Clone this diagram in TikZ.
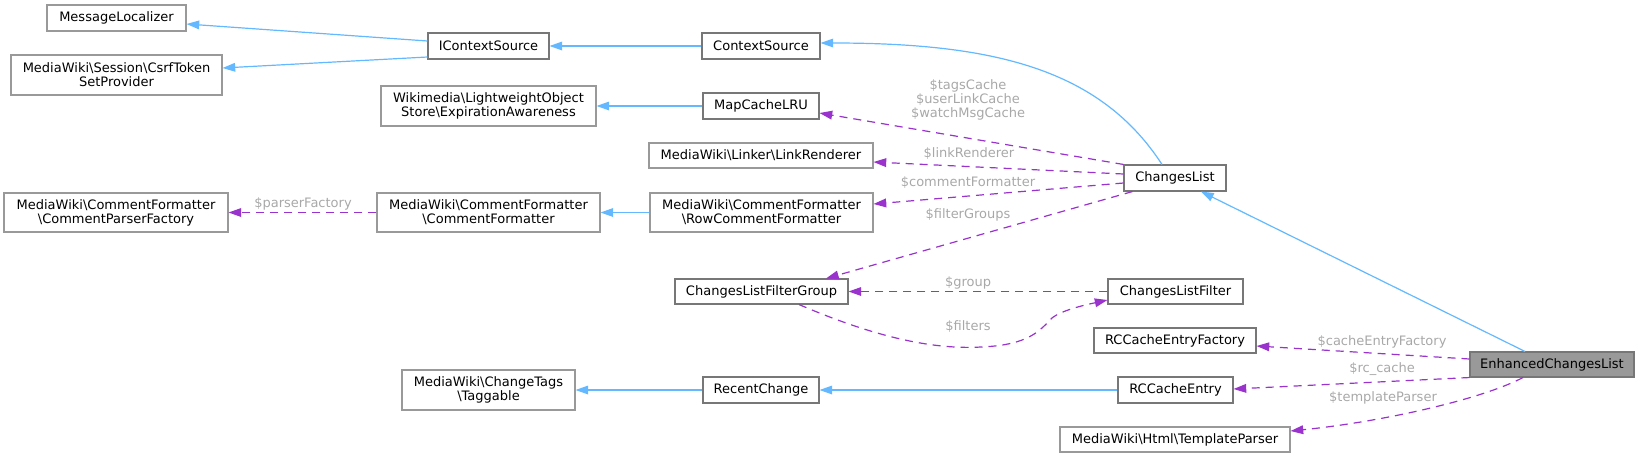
\documentclass[tikz,border=0pt]{standalone}
\usepackage{fontspec}
\setmainfont{DejaVu Sans}
\usetikzlibrary{arrows.meta,calc}
\definecolor{inhblue}{HTML}{63B8FF}
\definecolor{usepurple}{HTML}{9A32CD}
\definecolor{lblgray}{HTML}{A8A8A8}
\definecolor{dkborder}{HTML}{777777}
\definecolor{ltborder}{HTML}{999999}
\definecolor{curfill}{HTML}{999999}
\newcommand{\BSL}{\textbackslash{}}
\begin{document}
\begin{tikzpicture}[x=0.75pt,y=-0.75pt,
  font=\fontsize{9.75pt}{10.5pt}\selectfont,
  cls/.style={draw=ltborder, fill=white, line width=0.8pt, inner sep=0pt, align=center, text=black},
  dk/.style={cls, draw=dkborder},
  cur/.style={cls, draw=dkborder, fill=curfill},
  sz/.style 2 args={minimum width=#1*0.75pt, minimum height=#2*0.75pt},
  inh/.style={draw=inhblue, line width=0.9pt, -{Triangle[length=9.5pt,width=6.5pt]}},
  use/.style={draw=usepurple, line width=0.9pt, dash pattern=on 6pt off 4.5pt, -{Triangle[length=9.5pt,width=6.5pt]}},
  lbl/.style={text=lblgray, align=center, inner sep=0pt}]
\useasboundingbox (0,0) rectangle (1640,457);

% column 0
\node[cls, sz={139}{26}] (ml) at (116.5,18) {MessageLocalizer};
\node[cls, sz={211}{40}] (csrf) at (116.5,75) {MediaWiki\BSL Session\BSL CsrfToken\\SetProvider};
\node[cls, sz={224}{39}] (cpf) at (116,212.5) {MediaWiki\BSL CommentFormatter\\\BSL CommentParserFactory};
% column 1
\node[dk, sz={121}{26}] (ictx) at (488.5,46) {IContextSource};
\node[cls, sz={215}{40}] (wm) at (488.5,106) {Wikimedia\BSL LightweightObject\\Store\BSL ExpirationAwareness};
\node[cls, sz={223}{39}] (cf) at (488.5,212.5) {MediaWiki\BSL CommentFormatter\\\BSL CommentFormatter};
\node[cls, sz={173}{40}] (tag) at (488.5,390) {MediaWiki\BSL ChangeTags\\\BSL Taggable};
% column 2
\node[dk, sz={118}{26}] (ctx) at (761,46) {ContextSource};
\node[dk, sz={116}{26}] (mc) at (761,106) {MapCacheLRU};
\node[cls, sz={224}{25}] (lr) at (761,155.5) {MediaWiki\BSL Linker\BSL LinkRenderer};
\node[cls, sz={223}{39}] (rcf) at (761.5,212.5) {MediaWiki\BSL CommentFormatter\\\BSL RowCommentFormatter};
\node[dk, sz={173}{25}] (clfg) at (761.5,291.5) {ChangesListFilterGroup};
\node[dk, sz={116}{26}] (rc) at (761,390) {RecentChange};
% column 3
\node[dk, sz={102}{26}] (cl) at (1175,178) {ChangesList};
\node[dk, sz={135}{25}] (clf) at (1175.5,291.5) {ChangesListFilter};
\node[dk, sz={162}{25}] (rcef) at (1175,340.5) {RCCacheEntryFactory};
\node[dk, sz={115}{26}] (rce) at (1175.5,390) {RCCacheEntry};
\node[cls, sz={230}{25}] (tp) at (1175,439.5) {MediaWiki\BSL Html\BSL TemplateParser};
% column 4
\node[cur, sz={164}{25}] (ecl) at (1552,364.5) {EnhancedChangesList};

% inheritance edges
\draw[inh] ($(ictx.west)+(0,-5)$) -- ($(ml.east)+(0,6)$);
\draw[inh] ($(ictx.west)+(0,11)$) -- ($(csrf.east)+(0,-7)$);
\draw[inh] (ctx.west) -- (ictx.east);
\draw[inh] (mc.west) -- (wm.east);
\draw[inh] (rcf.west) -- (cf.east);
\draw[inh] ($(cl.north)+(-13,0)$) .. controls (1100,69) and (994,43) .. ($(ctx.east)+(0,-3)$);
\draw[inh] ($(ecl.north)+(-27,0)$) -- ($(cl.south)+(26,0)$);
\draw[inh] (rce.west) -- (rc.east);
\draw[inh] (rc.west) -- (tag.east);

% usage edges
\draw[use] (cf.west) -- (cpf.east);
\node[lbl] (lparser) at (303,204) {\$parserFactory};

\draw[use] (cl.north west) -- ($(mc.east)+(0,7)$);
\node[lbl] (lcache) at (968,100) {\$tagsCache\\\$userLinkCache\\\$watchMsgCache};
\draw[use] ($(cl.west)+(0,-4)$) -- ($(lr.east)+(0,6.5)$);
\node[lbl] (llink) at (969,154) {\$linkRenderer};
\draw[use] ($(cl.west)+(0,5)$) -- ($(rcf.east)+(0,-8.5)$);
\node[lbl] (lcf) at (968,183) {\$commentFormatter};
\draw[use] ($(cl.south west)+(9,0)$) -- ($(clfg.north)+(64.5,0)$);
\node[lbl] (lfg) at (968,215) {\$filterGroups};

\draw[use] (clf.west) -- (clfg.east);
\node[lbl] (lgroup) at (968,283) {\$group};
\draw[use] ($(clfg.south)+(37.5,0)$) .. controls (870,335) and (930,350) .. (981,347)
   .. controls (1030,345) and (1040,330) .. (1052,318)
   .. controls (1062,310) and (1085,305) .. ($(clf.west)+(0,8.5)$);
\node[lbl] (lfilters) at (968,327) {\$filters};

\draw[use] ($(ecl.west)+(0,-5.5)$) -- ($(rcef.east)+(0,5.5)$);
\node[lbl] (lcef) at (1382,342) {\$cacheEntryFactory};
\draw[use] (ecl.south west) -- ($(rce.east)+(0,-1)$);
\node[lbl] (lrc) at (1382,369) {\$rc\_cache};
\draw[use] ($(ecl.south)+(-29,0)$) .. controls (1480,400) and (1380,422) .. ($(tp.east)+(0,-8.5)$);
\node[lbl] (ltp) at (1383,398) {\$templateParser};
\end{tikzpicture}
\end{document}
